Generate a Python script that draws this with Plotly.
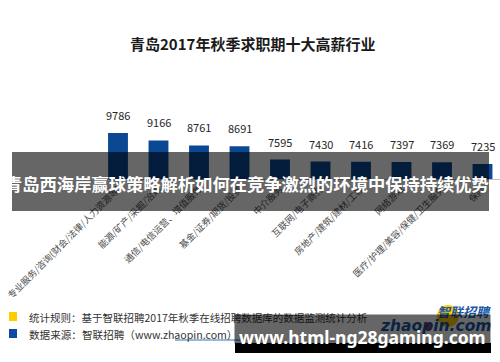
import plotly.graph_objects as go

# ---------------- data ----------------
title_text = "青岛2017年秋季求职期十大高薪行业"
industries = [
    "专业服务/咨询(财会/法律/人力资源等)",
    "能源/矿产/采掘/冶炼",
    "通信/电信运营、增值服务",
    "基金/证券/期货/投资",
    "中介服务",
    "互联网/电子商务",
    "房地产/建筑/建材/工程",
    "网络游戏",
    "医疗/护理/美容/保健/卫生服务",
    "保险",
]
salaries = [9786, 9166, 8761, 8691, 7595, 7430, 7416, 7397, 7369, 7235]
banner_text = "青岛西海岸赢球策略解析如何在竞争激烈的环境中保持持续优势"
note_rule = "统计规则：基于智联招聘2017年秋季在线招聘数据库的数据监测统计分析"
note_source = "数据来源：智联招聘（www.zhaopin.com）"
logo_cn = "智联招聘"
logo_en = "zhaopin.com"
watermark = "www.html-ng28gaming.com"

# ---------------- layout helpers ----------------
W_PX, H_PX = 500, 362
L, R, T, B = 98, 0, 106, 183
PW = W_PX - L - R
PH = H_PX - T - B
FONT = "Noto Sans CJK SC"


def px(x):
    return (x - L) / PW


def py(y):
    return (H_PX - B - y) / PH


fig = go.Figure()
fig.add_trace(go.Bar(
    x=industries, y=salaries, width=0.49,
    marker=dict(color="#0b4893", line=dict(width=0)),
    hoverinfo="skip",
))

annotations = []
# value labels
for cat, val in zip(industries, salaries):
    annotations.append(dict(
        x=cat, y=val, xref="x", yref="y", text=str(val), showarrow=False,
        yanchor="bottom", yshift=8,
        font=dict(family=FONT, size=11, color="#262626"),
    ))
# title
annotations.append(dict(
    x=px(252), y=py(44), xref="paper", yref="paper", text=title_text,
    showarrow=False, xanchor="center", yanchor="middle",
    font=dict(family=FONT, size=15, color="#1a1a1a", weight="bold"),
))
# banner text
annotations.append(dict(
    x=px(246.5), y=py(183), xref="paper", yref="paper", text=banner_text,
    showarrow=False, xanchor="center", yanchor="middle",
    font=dict(family=FONT, size=17.3, color="#ffffff", weight="bold"),
))
# footer notes
annotations.append(dict(
    x=px(27), y=py(317), xref="paper", yref="paper", text=note_rule,
    showarrow=False, xanchor="left", yanchor="middle",
    font=dict(family=FONT, size=10.5, color="#333333"),
))
annotations.append(dict(
    x=px(27), y=py(334.5), xref="paper", yref="paper", text=note_source,
    showarrow=False, xanchor="left", yanchor="middle",
    font=dict(family=FONT, size=10.6, color="#333333"),
))
# logo
annotations.append(dict(
    x=px(493), y=py(311), xref="paper", yref="paper", text="<i>" + logo_cn + "</i>",
    showarrow=False, xanchor="right", yanchor="middle",
    font=dict(family=FONT, size=13, color="#1857a8", weight="bold"),
))
annotations.append(dict(
    x=px(493), y=py(326), xref="paper", yref="paper", text="<i>" + logo_en + "</i>",
    showarrow=False, xanchor="right", yanchor="middle",
    font=dict(family="DejaVu Sans", size=15.5, color="#1857a8", weight="bold"),
))
# watermark band (drawn last so it covers footer text)
annotations.append(dict(
    x=px(362.5), y=py(329), xref="paper", yref="paper", text="",
    showarrow=False, xanchor="center", yanchor="middle",
    width=255, height=28, bgcolor="rgba(0,0,0,0.6)", borderpad=0,
))
annotations.append(dict(
    x=px(362), y=py(337), xref="paper", yref="paper", text=watermark,
    showarrow=False, xanchor="center", yanchor="middle",
    font=dict(family="Noto Sans", size=17.5, color="#ffffff", weight="bold"),
))

shapes = [
    # main banner
    dict(type="rect", xref="paper", yref="paper", layer="above",
         x0=px(12), x1=px(489), y0=py(152), y1=py(211),
         fillcolor="rgba(0,0,0,0.6)", line=dict(width=0)),
    # legend squares
    dict(type="rect", xref="paper", yref="paper",
         x0=px(9), x1=px(17), y0=py(312), y1=py(321),
         fillcolor="#ffcc00", line=dict(width=0)),
    dict(type="rect", xref="paper", yref="paper",
         x0=px(9), x1=px(17), y0=py(329), y1=py(338),
         fillcolor="#0b4aa0", line=dict(width=0)),
    # link underline
    dict(type="line", xref="paper", yref="paper",
         x0=px(175), x1=px(240), y0=py(340), y1=py(340),
         line=dict(color="#2e75b6", width=1)),
    # logo circle
    dict(type="circle", xref="paper", yref="paper",
         x0=px(437), x1=px(459), y0=py(305), y1=py(327),
         fillcolor="#ffcc00", line=dict(width=0)),
    dict(type="circle", xref="paper", yref="paper",
         x0=px(425), x1=px(432), y0=py(323), y1=py(330),
         fillcolor="#d62020", line=dict(width=0)),
    # black strip under watermark
    dict(type="rect", xref="paper", yref="paper",
         x0=px(235), x1=px(491), y0=py(343), y1=py(353),
         fillcolor="#000000", line=dict(width=0)),
]

fig.update_layout(
    width=W_PX, height=H_PX,
    margin=dict(l=L, r=R, t=T, b=B, pad=0),
    paper_bgcolor="#ffffff", plot_bgcolor="#ffffff",
    showlegend=False,
    annotations=annotations,
    shapes=shapes,
    xaxis=dict(
        range=[-0.494, 9.432], showgrid=False, zeroline=False,
        showline=True, linecolor="#bfbfbf", linewidth=1,
        ticks="", tickangle=-45, automargin=False,
        tickfont=dict(family=FONT, size=9.2, color="#4d4d4d"),
        fixedrange=True,
    ),
    yaxis=dict(range=[6000, 12000], visible=False, showgrid=False,
               zeroline=False, automargin=False, fixedrange=True),
)

fig.write_html(
    "out.html",
    config={"displayModeBar": False},
    post_script="document.body.style.margin='0';document.body.style.overflow='hidden';",
)
